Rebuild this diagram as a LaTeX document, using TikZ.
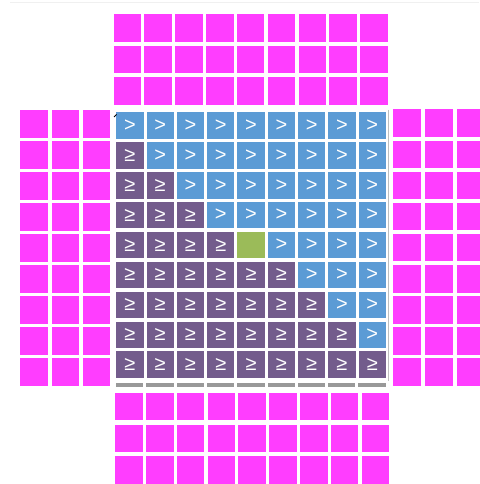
\documentclass[tikz,border=0pt]{standalone}
\usepackage{fontspec}
\newfontfamily\symfont{Liberation Sans}
\definecolor{pinkc}{HTML}{FF3DFF}
\definecolor{bluec}{HTML}{5B9BD5}
\definecolor{purpc}{HTML}{735C8C}
\definecolor{greenc}{HTML}{9BBB59}
\begin{document}
\begin{tikzpicture}[x=1pt,y=-1pt,
  pinkcell/.style={fill=pinkc,draw=none,minimum width=27.5pt,minimum height=27.5pt,inner sep=0pt,anchor=north west},
  gridcell/.style={draw=none,minimum width=27.3pt,minimum height=26.5pt,inner sep=0pt,anchor=north west,text=white,font=\symfont\fontsize{20}{20}\selectfont},
  gtcell/.style={gridcell,fill=bluec},
  gecell/.style={gridcell,fill=purpc},
  midcell/.style={gridcell,fill=greenc},
  shadowbar/.style={fill=black!40,draw=none}]
\useasboundingbox (0,0) rectangle (479,484);
\fill[white] (0,0) rectangle (479,484);
\draw[black!6,line width=1pt] (10,3) -- (479,3);
% top pink block
\foreach \r in {0,1,2}{\foreach \c in {0,...,8}{
  \node[pinkcell] (t-\r-\c) at ({113.3+30.85*\c},{14+31.5*\r}) {};}}
% bottom pink block
\foreach \r in {0,1,2}{\foreach \c in {0,...,8}{
  \node[pinkcell] (b-\r-\c) at ({115+30.8*\c},{392.7+31.6*\r}) {};}}
% left pink block
\foreach \r in {0,...,8}{\foreach \c in {0,1,2}{
  \node[pinkcell] (l-\r-\c) at ({20+31.3*\c},{110+31*\r}) {};}}
% right pink block
\foreach \r in {0,...,8}{\foreach \c in {0,1,2}{
  \node[pinkcell] (r-\r-\c) at ({393+31.8*\c},{109.3+31.1*\r}) {};}}
% main grid frame and shadow
\fill[white] (112,108) rectangle (389,381);
\draw[black!25,line width=0.8pt] (388.5,110) -- (388.5,381);
\foreach \c in {0,...,8}{
  \fill[shadowbar] ({116+30.3*\c},382.5) rectangle ({116+30.3*\c+27.3},387.3);}
% main grid
\foreach \r in {0,...,8}{\foreach \c in {0,...,8}{
  \pgfmathtruncatemacro\k{(\r==4 && \c==4) ? 2 : (((\r<=4 && \c<\r) || (\r>4 && \c<=\r)) ? 1 : 0)}
  \ifcase\k
    \node[gtcell] (m-\r-\c) at ({116+30.3*\c},{112+29.9*\r}) {>};
  \or
    \node[gecell] (m-\r-\c) at ({116+30.3*\c},{112+29.9*\r}) {≥};
  \or
    \node[midcell] (m-\r-\c) at ({116+30.3*\c},{112+29.9*\r}) {};
  \fi
}}
\draw[black,line width=1pt] (114,117) -- (116.5,114.5);
\end{tikzpicture}
\end{document}
